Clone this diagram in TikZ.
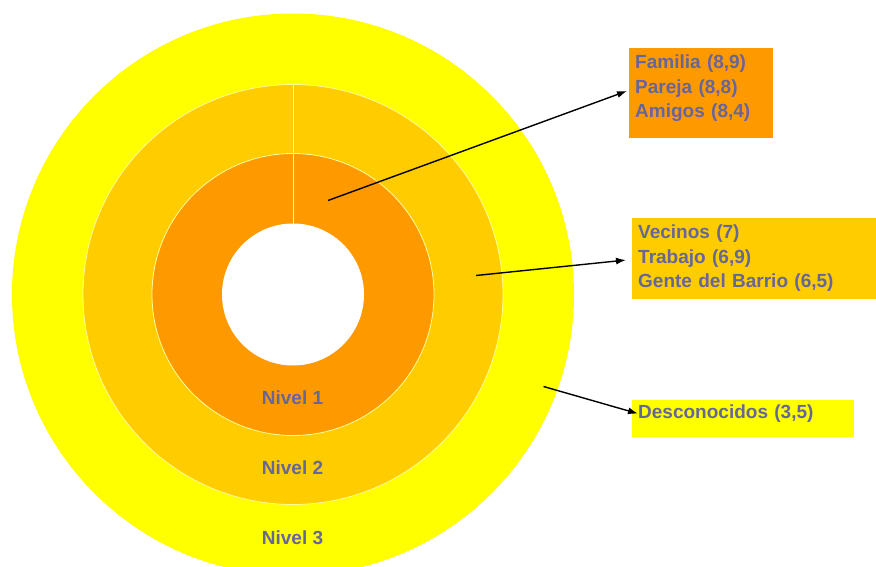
\documentclass[tikz,border=0pt]{standalone}
\usepackage{fontspec}
\setmainfont{Liberation Sans}
\usetikzlibrary{arrows.meta}
\definecolor{amarillo}{RGB}{255,255,0}
\definecolor{naranjaclaro}{RGB}{255,204,0}
\definecolor{naranja}{RGB}{255,153,0}
\definecolor{borde}{RGB}{255,255,153}
\definecolor{letra}{RGB}{102,102,153}
\newcommand{\hueco}[1]{\rule[-#1]{0pt}{#1}}

\begin{document}
\begin{tikzpicture}[x=1pt,y=-1pt,
  nivel/.style={font=\fontsize{19}{24.5}\selectfont\bfseries,text=letra,inner sep=0pt},
  caja/.style={anchor=north west,align=left,font=\fontsize{19}{24.5}\selectfont\bfseries,
    text=letra,inner xsep=6pt,inner ysep=7pt},
  flecha/.style={-{Latex[length=10pt,width=7pt]},line width=1.4pt}]
\useasboundingbox (0,0) rectangle (876,567);
\coordinate (c) at (293,294.5);
\fill[amarillo] (c) circle (281pt);
\filldraw[fill=naranjaclaro,draw=borde,line width=0.8pt] (c) circle (210pt);
\filldraw[fill=naranja,draw=borde,line width=0.8pt] (c) circle (141pt);
\fill[white] (c) circle (71pt);
\draw[borde,line width=1pt] ([yshift=71pt]c) -- ([yshift=210pt]c);

\node[nivel] (n1) at (292.5,397.5) {Nivel 1};
\node[nivel] (n2) at (292.5,467.5) {Nivel 2};
\node[nivel] (n3) at (292.5,538) {Nivel 3};

\node[caja,fill=naranja,text width=132pt] (fam) at (629,47.7)
  {Familia (8,9)\\Pareja (8,8)\\Amigos (8,4)\hueco{13.4pt}};
\node[caja,fill=naranjaclaro,text width=232pt] (vec) at (632,218)
  {Vecinos (7)\\Trabajo (6,9)\\Gente del Barrio (6,5)};
\node[caja,fill=amarillo,text width=210pt,inner ysep=5pt] (desc) at (632,400)
  {Desconocidos (3,5)\hueco{13.1pt}};

\coordinate (p1) at (328,200.5);
\coordinate (p2) at (476,275.5);
\coordinate (p3) at (543.5,386.5);
\draw[flecha] (p1) -- ([xshift=-2pt,yshift=2pt]fam.west);
\draw[flecha] (p2) -- ([xshift=-6pt,yshift=-1.5pt]vec.west);
\draw[flecha] (p3) -- ([xshift=6pt,yshift=5pt]desc.west);
\end{tikzpicture}
\end{document}
